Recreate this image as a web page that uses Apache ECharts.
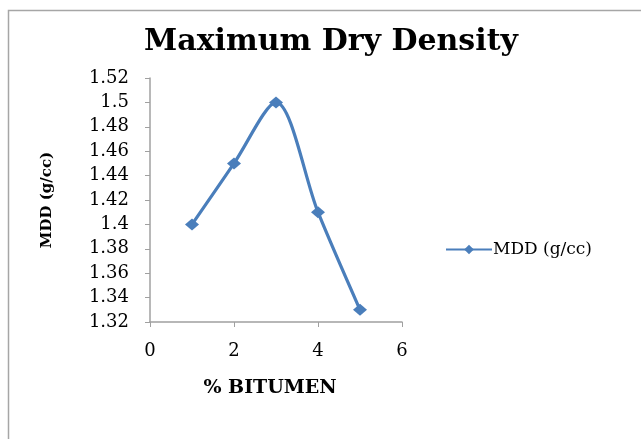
<!DOCTYPE html>
<html><head><meta charset="utf-8">
<script src="https://cdn.jsdelivr.net/npm/echarts@6/dist/echarts.min.js"></script>
<style>html,body{margin:0;padding:0;background:#fff}#c{width:641px;height:439px}</style>
</head><body><div id="c"></div>
<script>
const bitumen = [1, 2, 3, 4, 5];
const mdd = [1.40, 1.45, 1.50, 1.41, 1.33];
const seriesName = 'MDD (g/cc)';
const titleText = 'Maximum Dry Density';
const xName = '% BITUMEN';
const yName = 'MDD (g/cc)';

const chart = echarts.init(document.getElementById('c'), null, {renderer: 'canvas'});
const serif = '"DejaVu Serif","Liberation Serif",serif';
chart.setOption({
  animation: false,
  backgroundColor: '#fff',
  graphic: [{type: 'rect', left: 6, top: 8, shape: {width: 650, height: 450},
    style: {fill: 'none', stroke: '#a6a6a6', lineWidth: 1.5}, silent: true}],
  title: {text: titleText, left: 326, top: 22, textAlign: 'center',
    textStyle: {fontFamily: serif, fontWeight: 'bold', fontSize: 30, color: '#000'}},
  legend: {data: [{name: seriesName}], left: 440, top: 236, itemWidth: 46, itemHeight: 12, itemGap: 0,
    textStyle: {fontFamily: serif, fontSize: 17, color: '#000', padding: [0,0,0,-4]}},
  grid: {left: 150, top: 78, right: 239, bottom: 117, containLabel: false},
  xAxis: {type: 'value', min: 0, max: 6, interval: 2,
    name: xName, nameLocation: 'middle', nameGap: 57,
    nameTextStyle: {fontFamily: serif, fontWeight: 'bold', fontSize: 19, color: '#000', padding: [0,0,0,-12]},
    axisLine: {lineStyle: {color: '#a0a0a0', width: 1.5}},
    axisTick: {show: true, inside: false, length: 5, lineStyle: {color: '#a0a0a0'}},
    splitLine: {show: false},
    axisLabel: {fontFamily: serif, fontSize: 18, color: '#000', margin: 20}},
  yAxis: {type: 'value', min: 1.32, max: 1.52, interval: 0.02,
    name: yName, nameLocation: 'middle', nameGap: 95, nameRotate: 90,
    nameTextStyle: {fontFamily: serif, fontWeight: 'bold', fontSize: 15, color: '#000'},
    axisLine: {show: true, lineStyle: {color: '#a0a0a0', width: 1.5}},
    axisTick: {show: true, inside: false, length: 5, lineStyle: {color: '#a0a0a0'}},
    splitLine: {show: false},
    axisLabel: {fontFamily: serif, fontSize: 18, color: '#000', margin: 21,
      formatter: v => String(parseFloat(v.toFixed(2)))}},
  series: [{name: seriesName, type: 'line', data: bitumen.map((x, i) => [x, mdd[i]]),
    smooth: 0.3, symbol: 'diamond', symbolSize: [14, 12],
    lineStyle: {color: '#4a7ebb', width: 3.2}, itemStyle: {color: '#4a7ebb'}}]
});
</script></body></html>
